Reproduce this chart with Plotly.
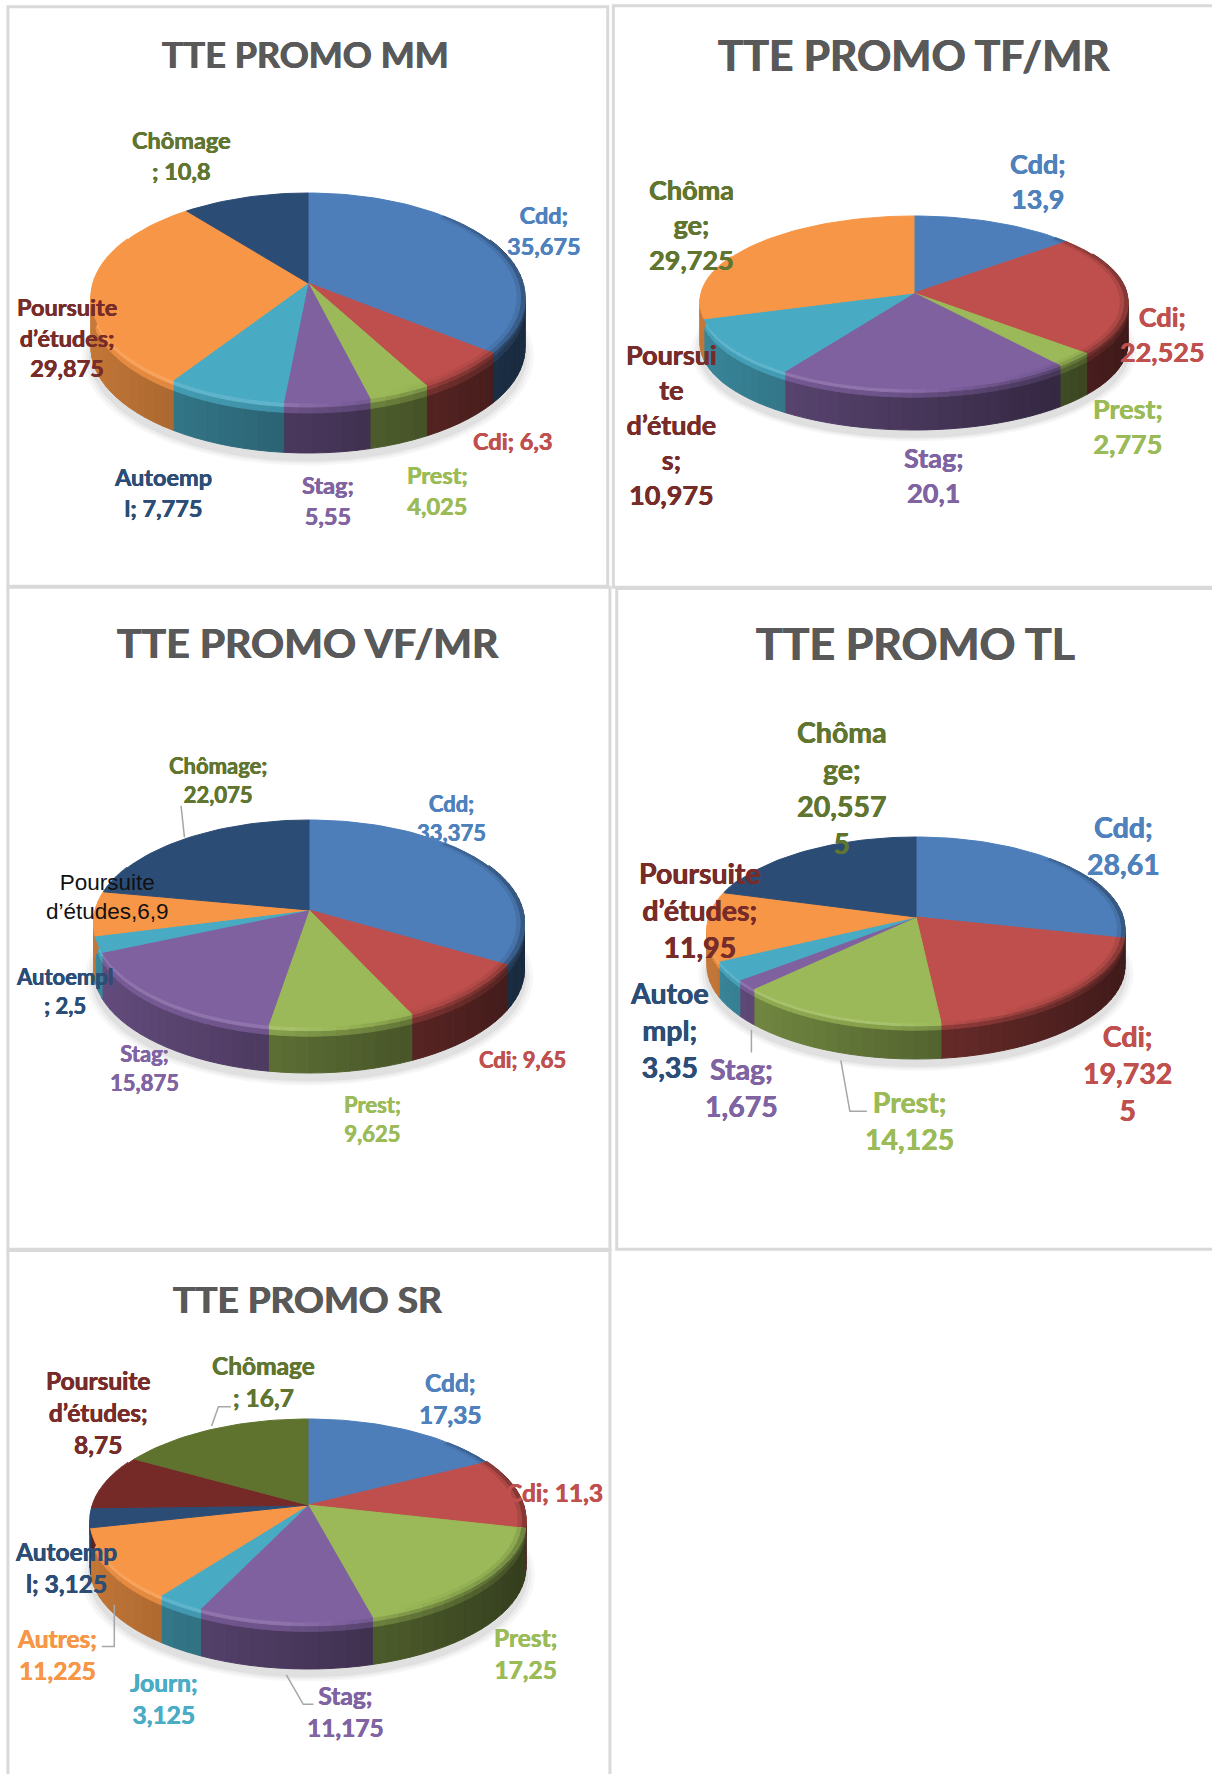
import math
import plotly.graph_objects as go

# ---------- data ----------
MM_values = [35.675, 6.3, 4.025, 5.55, 7.775, 29.875, 10.8]
TF_values = [13.9, 22.525, 2.775, 20.1, 10.975, 29.725]
VF_values = [33.375, 9.65, 9.625, 15.875, 2.5, 6.9, 22.075]
TL_values = [28.61, 19.7325, 14.125, 1.675, 3.35, 11.95, 20.5575]
SR_values = [17.35, 11.3, 17.25, 11.175, 3.125, 11.225, 3.125, 8.75, 16.7]

MM_labels = ["Cdd;<br>35,675", "Cdi; 6,3", "Prest;<br>4,025", "Stag;<br>5,55", "Autoemp<br>l; 7,775",
             "Poursuite<br>d’études;<br>29,875", "Chômage<br>; 10,8"]
TF_labels = ["Cdd;<br>13,9", "Cdi;<br>22,525", "Prest;<br>2,775", "Stag;<br>20,1",
             "Poursui<br>te<br>d’étude<br>s;<br>10,975", "Chôma<br>ge;<br>29,725"]
VF_labels = ["Cdd;<br>33,375", "Cdi; 9,65", "Prest;<br>9,625", "Stag;<br>15,875", "Autoempl<br>; 2,5",
             "Poursuite<br>d’études,6,9", "Chômage;<br>22,075"]
TL_labels = ["Cdd;<br>28,61", "Cdi;<br>19,732<br>5", "Prest;<br>14,125", "Stag;<br>1,675", "Autoe<br>mpl;<br>3,35",
             "Poursuite<br>d’études;<br>11,95", "Chôma<br>ge;<br>20,557<br>5"]
SR_labels = ["Cdd;<br>17,35", "Cdi; 11,3", "Prest;<br>17,25", "Stag;<br>11,175", "Journ;<br>3,125",
             "Autres;<br>11,225", "Autoemp<br>l; 3,125", "Poursuite<br>d’études;<br>8,75", "Chômage<br>; 16,7"]

titles = ["TTE PROMO MM", "TTE PROMO TF/MR", "TTE PROMO VF/MR", "TTE PROMO TL", "TTE PROMO SR"]

# ---------- styles ----------
SLICE = ["#4D7EBA", "#BE4F4C", "#9BB958", "#7F61A0", "#49AAC4", "#F79646", "#2B4C75", "#762A28", "#5F732F"]
C_CDD, C_CDI, C_PREST, C_STAG, C_JOURN, C_AUTRES = "#4F81BD", "#C0504D", "#9BBB59", "#8064A2", "#4BACC6", "#F79646"
C_AUTO, C_POUR, C_CHOM = "#2C4D75", "#772C2A", "#5F7530"
S = 1212 / 1071

panels = [
    dict(values=MM_values, labels=MM_labels, title=titles[0], geo=(308, 283, 217, 90, 120, 50),
         title_xy=(270, 48), tsize=36, fsize=23.5,
         cols=[C_CDD, C_CDI, C_PREST, C_STAG, C_AUTO, C_POUR, C_CHOM],
         pos=[(481, 204), (453, 390), (387, 433), (290, 442), (144, 435), (59, 298), (160, 137)]),
    dict(values=TF_values, labels=TF_labels, title=titles[1], geo=(914, 293, 214, 77, 96, 41),
         title_xy=(808, 48), tsize=42.5, fsize=27,
         cols=[C_CDD, C_CDI, C_PREST, C_STAG, C_POUR, C_CHOM],
         pos=[(917, 160), (1027, 295), (997, 376), (825, 420), (593, 375), (611, 198)]),
    dict(values=VF_values, labels=VF_labels, title=titles[2], geo=(309, 910, 215.5, 90, 117, 46),
         title_xy=(272, 568), tsize=41, fsize=22,
         cols=[C_CDD, C_CDI, C_PREST, C_STAG, C_AUTO, None, C_CHOM],
         pos=[(399, 723), (462, 936), (329, 989), (128, 944), (57, 876), (95, 793), (193, 689)]),
    dict(values=TL_values, labels=TL_labels, title=titles[3], geo=(916, 917, 209, 80, 106, 36),
         title_xy=(809, 568), tsize=44.5, fsize=28.5,
         cols=[C_CDD, C_CDI, C_PREST, C_STAG, C_AUTO, C_POUR, C_CHOM],
         pos=[(993, 747), (996, 948), (804, 990), (655, 961), (592, 910), (619, 804), (744, 696)]),
    dict(values=SR_values, labels=SR_labels, title=titles[4], geo=(308, 1505, 218, 86, 117, 47),
         title_xy=(272, 1147), tsize=37, fsize=24.5,
         cols=[C_CDD, C_CDI, C_PREST, C_STAG, C_JOURN, C_AUTRES, C_AUTO, C_POUR, C_CHOM],
         pos=[(398, 1236), (490, 1319), (464, 1461), (305, 1512), (145, 1501), (50, 1462), (58, 1385), (87, 1248), (233, 1221)]),
]

borders = [(7, 6, 537, 518), (542, 5, 1090, 519), (7, 519, 539, 1104), (545, 520, 1090, 1104), (7, 1105, 539, 1600)]
leaders = [
    [(160, 712), (163, 740)],
    [(664, 910), (664, 930)],
    [(743, 937), (751, 982), (766, 982)],
    [(187, 1260), (193, 1243), (204, 1243)],
    [(101, 1418), (101, 1455), (90, 1455)],
    [(253, 1480), (268, 1506), (277, 1506)],
]


def rgb(h):
    return tuple(int(h[i:i + 2], 16) for i in (1, 3, 5))


def shade(h, f):
    r, g, b = rgb(h)
    if f <= 1:
        return f"rgb({r * f:.0f},{g * f:.0f},{b * f:.0f})"
    t = f - 1
    return f"rgb({r + (255 - r) * t:.0f},{g + (255 - g) * t:.0f},{b + (255 - b) * t:.0f})"


def projector(geo):
    cx, cy, rx, t, b, th = geo
    a = 2 * t * b / (t + b)
    k = a / t - 1
    R = rx * math.sqrt(1 - k * k)

    def p(theta, r=1.0, dz=0.0):
        x, y = r * math.sin(theta), r * math.cos(theta)
        d = 1 + k * y
        return cx + R * x / d, cy - a * y / d + dz
    return p


fig = go.Figure()


def poly(pts, color):
    xs = [q[0] for q in pts] + [pts[0][0]]
    ys = [q[1] for q in pts] + [pts[0][1]]
    lc = color if color.startswith("rgb(") or color.startswith("#") else "rgba(0,0,0,0)"
    fig.add_trace(go.Scatter(x=xs, y=ys, mode="lines", fill="toself", fillcolor=color,
                             line=dict(color=lc, width=1), hoverinfo="skip", showlegend=False))


def heavy(color, w=0.45):
    return f"{w}px 0 0.5px {color}, -{w}px 0 0.5px {color}"


for pn in panels:
    geo = pn["geo"]
    cx, cy, rx, t, b, th = geo
    p = projector(geo)
    total = sum(pn["values"])
    circle = [2 * math.pi * i / 120 for i in range(120)]
    for grow, alpha in ((1.04, 0.03), (1.025, 0.04), (1.01, 0.05)):
        poly([p(a, grow, th + 7) for a in circle], f"rgba(0,0,0,{alpha})")
    acc = 0.0
    spans = []
    for i, v in enumerate(pn["values"]):
        a0 = 2 * math.pi * acc / total
        acc += v
        a1 = 2 * math.pi * acc / total
        spans.append((a0, a1, SLICE[i]))
    for a0, a1, col in spans:
        n = max(1, int((a1 - a0) / math.radians(3)))
        for j in range(n):
            s0 = a0 + (a1 - a0) * j / n
            s1 = a0 + (a1 - a0) * (j + 1) / n
            mid = (s0 + s1) / 2
            if math.cos(mid) > 0.45:
                continue
            u = math.sin(mid)
            arc = [s0, mid, s1]
            main = max(0.34, 0.56 - 0.24 * u)
            hi = 1.12 if u < -0.1 else max(0.55, 1.12 - 0.6 * (u + 0.1))
            bands = [(-1, 0.08, hi), (0.08, 0.2, (hi + main) / 2), (0.2, 1.0, main)]
            for z0, z1, f in bands[::-1]:
                dz0 = z0 if z0 < 0 else z0 * th
                poly([p(q, 1, dz0) for q in arc] + [p(q, 1, z1 * th) for q in arc[::-1]], shade(col, f))
    for a0, a1, col in spans:
        n = max(2, int((a1 - a0) / math.radians(2)))
        arc = [a0 + (a1 - a0) * j / n for j in range(n + 1)]
        poly([(cx, cy)] + [p(q) for q in arc], col)
        # darkening of the top face close to its right hand edge
        m = max(1, int((a1 - a0) / math.radians(4)))
        for j in range(m):
            s0 = a0 + (a1 - a0) * j / m
            s1 = a0 + (a1 - a0) * (j + 1) / m
            mid = (s0 + s1) / 2
            u = math.sin(mid)
            if u > 0.35 and math.cos(mid) < 0.7:
                arc2 = [s0, mid, s1]
                x = (u - 0.35) / 0.65
                poly([p(q, 0.965) for q in arc2] + [p(q, 0.985) for q in arc2[::-1]], shade(col, 1 - 0.1 * x))
                poly([p(q, 0.985) for q in arc2] + [p(q, 1.0) for q in arc2[::-1]], shade(col, 1 - 0.3 * x))
    for txt, (lx, ly), c in zip(pn["labels"], pn["pos"], pn["cols"]):
        plain = c is None
        font = dict(family="Liberation Sans" if plain else "Lato", size=22.5 if plain else pn["fsize"],
                    color="#111111" if plain else c)
        if not plain:
            font["shadow"] = heavy(c, 0.3)
        fig.add_annotation(x=lx * S, y=ly * S, text=txt if plain else f"<b>{txt}</b>", showarrow=False,
                           align="center", xanchor="center", yanchor="middle", font=font)
    fig.add_annotation(x=pn["title_xy"][0] * S, y=pn["title_xy"][1] * S, text=f"<b>{pn['title']}</b>",
                       showarrow=False, xanchor="center", yanchor="middle",
                       font=dict(family="Lato", size=pn["tsize"], color="#595959", shadow=heavy("#595959", 0.5)))

for line in leaders:
    fig.add_trace(go.Scatter(x=[q[0] * S for q in line], y=[q[1] * S for q in line], mode="lines",
                             line=dict(color="#A6A6A6", width=1.5), hoverinfo="skip", showlegend=False))

for x0, y0, x1, y1 in borders:
    fig.add_shape(type="rect", x0=x0 * S, y0=y0 * S, x1=x1 * S, y1=y1 * S, xref="x", yref="y",
                  line=dict(color="#D9D9D9", width=3), fillcolor="rgba(0,0,0,0)", layer="below")

fig.update_layout(width=1212, height=1774, margin=dict(l=0, r=0, t=0, b=0), plot_bgcolor="white",
                  paper_bgcolor="white", showlegend=False,
                  xaxis=dict(range=[0, 1212], visible=False, fixedrange=True),
                  yaxis=dict(range=[1774, 0], visible=False, fixedrange=True))
# remove the page's default body margin so that the plot fills the window exactly
fig.write_html("out.html", config=dict(displayModeBar=False), default_width="1212px", default_height="1774px",
               post_script="document.body.style.margin='0';document.body.style.overflow='hidden';")
